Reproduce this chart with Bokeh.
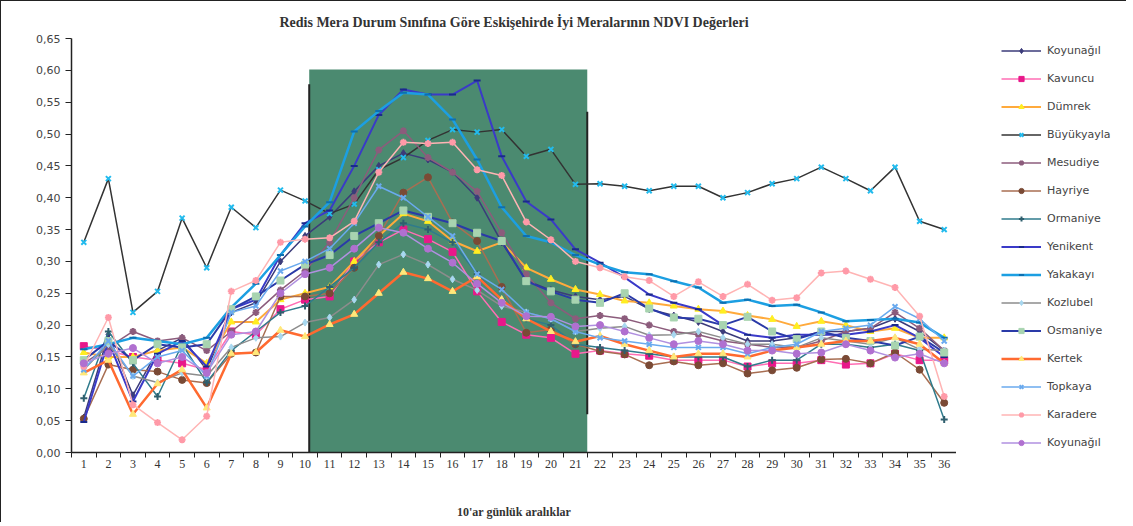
from bokeh.plotting import figure
from bokeh.layouts import row
from bokeh.models import (FixedTicker, CustomJSTickFormatter, Legend, LegendItem, Range1d)
from bokeh.embed import file_html
from bokeh.resources import INLINE

# ---------------- data ----------------
periods = list(range(1, 37))
x_labels = [str(i) for i in periods]
y_ticks = [0.00, 0.05, 0.10, 0.15, 0.20, 0.25, 0.30, 0.35, 0.40, 0.45, 0.50, 0.55, 0.60, 0.65]

names = ["Koyunağıl", "Kavuncu", "Dümrek", "Büyükyayla", "Mesudiye", "Hayriye", "Ormaniye",
         "Yenikent", "Yakakayı", "Kozlubel", "Osmaniye", "Kertek", "Topkaya", "Karadere", "Koyunağıl"]

koyunagil_1 = [0.055, 0.185, 0.09, 0.16, 0.18, 0.13, 0.22, 0.235, 0.30, 0.34,
               0.37, 0.41, 0.45, 0.47, 0.46, 0.44, 0.40, 0.33, 0.27, 0.255, 0.245,
               0.24, 0.245, 0.225, 0.215, 0.205, 0.19, 0.175, 0.175, 0.18, 0.19, 0.19, 0.195, 0.21, 0.19, 0.16]
kavuncu = [0.167, 0.16, 0.15, 0.145, 0.14, 0.13, 0.19, 0.185, 0.225, 0.24,
           0.245, 0.30, 0.33, 0.35, 0.335, 0.315, 0.253, 0.205, 0.185, 0.18, 0.155,
           0.16, 0.155, 0.152, 0.145, 0.145, 0.145, 0.135, 0.14, 0.14, 0.145, 0.138, 0.14, 0.155, 0.145, 0.145]
dumrek = [0.157, 0.15, 0.15, 0.16, 0.165, 0.14, 0.205, 0.205, 0.24, 0.25,
          0.26, 0.30, 0.34, 0.375, 0.363, 0.332, 0.316, 0.33, 0.29, 0.272, 0.256,
          0.248, 0.238, 0.235, 0.23, 0.225, 0.222, 0.215, 0.209, 0.198, 0.206, 0.20, 0.19, 0.195, 0.18, 0.18]
buyukyayla = [0.33, 0.43, 0.22, 0.253, 0.368, 0.29, 0.385, 0.353, 0.412, 0.395,
              0.375, 0.39, 0.444, 0.463, 0.49, 0.507, 0.503, 0.507, 0.465, 0.476, 0.421,
              0.422, 0.418, 0.411, 0.418, 0.418, 0.40, 0.408, 0.422, 0.43, 0.448, 0.43, 0.411, 0.448, 0.363, 0.35]
mesudiye = [0.14, 0.165, 0.19, 0.175, 0.18, 0.16, 0.19, 0.22, 0.255, 0.285,
            0.33, 0.40, 0.475, 0.505, 0.463, 0.44, 0.41, 0.345, 0.28, 0.235, 0.21,
            0.215, 0.21, 0.20, 0.19, 0.185, 0.175, 0.17, 0.165, 0.165, 0.175, 0.19, 0.195, 0.22, 0.195, 0.16]
hayriye = [0.053, 0.138, 0.13, 0.127, 0.114, 0.109, 0.155, 0.157, 0.245, 0.245,
           0.25, 0.29, 0.34, 0.408, 0.432, 0.361, 0.332, 0.26, 0.188, 0.193, 0.17,
           0.159, 0.154, 0.137, 0.143, 0.137, 0.14, 0.124, 0.129, 0.133, 0.146, 0.147, 0.14, 0.157, 0.13, 0.078]
ormaniye = [0.085, 0.19, 0.14, 0.088, 0.17, 0.11, 0.16, 0.19, 0.22, 0.23,
            0.26, 0.29, 0.33, 0.36, 0.35, 0.33, 0.28, 0.24, 0.21, 0.20, 0.17,
            0.165, 0.16, 0.155, 0.15, 0.15, 0.15, 0.135, 0.145, 0.145, 0.17, 0.17, 0.165, 0.17, 0.16, 0.052]
yenikent = [0.048, 0.175, 0.08, 0.155, 0.175, 0.135, 0.225, 0.24, 0.31, 0.36,
            0.38, 0.45, 0.53, 0.57, 0.562, 0.562, 0.584, 0.465, 0.394, 0.366, 0.319,
            0.298, 0.275, 0.248, 0.235, 0.225, 0.20, 0.185, 0.18, 0.185, 0.185, 0.185, 0.19, 0.20, 0.18, 0.15]
yakakayi = [0.162, 0.17, 0.18, 0.175, 0.17, 0.18, 0.228, 0.265, 0.31, 0.355,
            0.393, 0.504, 0.536, 0.565, 0.562, 0.523, 0.46, 0.385, 0.34, 0.33, 0.31,
            0.295, 0.283, 0.28, 0.269, 0.259, 0.235, 0.24, 0.23, 0.232, 0.22, 0.206, 0.208, 0.21, 0.204, 0.18]
kozlubel = [0.13, 0.17, 0.12, 0.11, 0.125, 0.12, 0.165, 0.18, 0.182, 0.204,
            0.212, 0.24, 0.295, 0.311, 0.295, 0.272, 0.255, 0.23, 0.22, 0.21, 0.19,
            0.195, 0.198, 0.184, 0.185, 0.19, 0.18, 0.17, 0.17, 0.165, 0.18, 0.175, 0.17, 0.18, 0.162, 0.16]
osmaniye = [0.145, 0.175, 0.145, 0.17, 0.165, 0.17, 0.225, 0.245, 0.27, 0.295,
            0.31, 0.34, 0.36, 0.38, 0.37, 0.36, 0.345, 0.332, 0.269, 0.253, 0.24,
            0.235, 0.25, 0.226, 0.212, 0.21, 0.20, 0.213, 0.19, 0.178, 0.19, 0.18, 0.175, 0.168, 0.182, 0.157]
kertek = [0.125, 0.145, 0.06, 0.108, 0.13, 0.07, 0.155, 0.157, 0.192, 0.182,
          0.201, 0.217, 0.25, 0.283, 0.273, 0.253, 0.276, 0.24, 0.21, 0.19, 0.174,
          0.183, 0.17, 0.16, 0.15, 0.155, 0.155, 0.15, 0.16, 0.165, 0.17, 0.175, 0.175, 0.18, 0.17, 0.14]
topkaya = [0.13, 0.175, 0.12, 0.15, 0.16, 0.12, 0.22, 0.23, 0.285, 0.30,
           0.32, 0.36, 0.418, 0.40, 0.37, 0.34, 0.28, 0.256, 0.22, 0.21, 0.19,
           0.18, 0.175, 0.17, 0.165, 0.165, 0.165, 0.155, 0.165, 0.17, 0.19, 0.195, 0.20, 0.229, 0.21, 0.175]
karadere = [0.135, 0.212, 0.075, 0.047, 0.02, 0.057, 0.253, 0.27, 0.33, 0.335,
            0.337, 0.363, 0.44, 0.487, 0.485, 0.487, 0.444, 0.435, 0.362, 0.334, 0.30,
            0.29, 0.276, 0.27, 0.245, 0.268, 0.245, 0.264, 0.239, 0.243, 0.282, 0.285, 0.272, 0.259, 0.214, 0.088]
koyunagil_2 = [0.14, 0.155, 0.164, 0.14, 0.15, 0.125, 0.185, 0.19, 0.25, 0.28,
               0.29, 0.32, 0.353, 0.345, 0.32, 0.298, 0.265, 0.235, 0.214, 0.213, 0.198,
               0.20, 0.19, 0.18, 0.17, 0.175, 0.17, 0.16, 0.16, 0.155, 0.157, 0.17, 0.16, 0.149, 0.155, 0.14]

series = [koyunagil_1, kavuncu, dumrek, buyukyayla, mesudiye, hayriye, ormaniye,
          yenikent, yakakayi, kozlubel, osmaniye, kertek, topkaya, karadere, koyunagil_2]

# shaded growing period (in category units)
shade_left, shade_right, shade_top = 10.17, 21.48, 0.6015

# ---------------- styles ----------------
line_colors = ["#3b3b7a", "#ff6eb4", "#ffaa3c", "#333333", "#8c5c7c", "#a86e52", "#2f7b8c",
               "#3a3ac8", "#1c9fe2", "#8c8c8c", "#2a3aa8", "#ff6a30", "#6aaaee", "#ffb4b4", "#b090e0"]
marker_colors = ["#3b3b7a", "#e8188a", "#ffee22", "#22bbee", "#8c5c7c", "#7a4a35", "#2f5f6e",
                 "#1a2a8a", "#0d6fb0", "#a8d8f0", "#a8d4b0", "#ffe87a", "#6aaaee", "#ff9aa8", "#b070d0"]
markers = ["diamond", "square", "triangle", "x", "asterisk", "circle", "cross",
           "dash", "dash", "diamond", "square", "triangle", "x", "asterisk", "circle"]
line_widths = [1.5, 1.5, 2, 1.5, 1.5, 1.5, 1.5, 2, 2.5, 1.5, 2, 2.5, 1.5, 1.5, 1.5]

TOTAL_H = 521

p = figure(frame_width=885, frame_height=414, output_backend="svg", toolbar_location=None,
           x_range=Range1d(0.5, 36.5), y_range=Range1d(0, 0.65),
           min_border_left=70, min_border_right=0, min_border_top=37, min_border_bottom=70)

p.title.text = "Redis Mera Durum Sınıfına Göre Eskişehirde İyi Meralarının NDVI Değerleri"
p.title.align = "center"
p.title.text_font = "Liberation Serif"
p.title.text_font_size = "14px"
p.title.text_font_style = "bold"
p.title.text_color = "#333333"
p.title.standoff = 18

p.outline_line_color = None
p.xgrid.grid_line_color = None
p.ygrid.grid_line_color = None
p.background_fill_color = "white"

# shaded block
p.quad(left=[shade_left], right=[shade_right], bottom=[0], top=[shade_top],
       fill_color="#4b8a70", line_color=None)
p.segment(x0=[shade_left], y0=[0], x1=[shade_left], y1=[0.578], line_color="#222222", line_width=2)
p.segment(x0=[shade_right], y0=[0.06], x1=[shade_right], y1=[0.535], line_color="#222222", line_width=2)

# legend panel: separate figure; its proxy renderers use the same data but lie outside its view
lg = figure(width=170, height=TOTAL_H, output_backend="svg", toolbar_location=None,
            x_range=Range1d(100, 101), y_range=Range1d(100, 101), min_border=0)
lg.axis.visible = False
lg.grid.visible = False
lg.outline_line_color = None

items = []
for name, vals, lc, mc, mk, lw in zip(names, series, line_colors, marker_colors, markers, line_widths):
    p.line(periods, vals, line_color=lc, line_width=lw)
    kw = dict(marker=mk, size=7, line_color=mc, fill_color=mc)
    if mk in ("x", "asterisk", "cross", "dash"):
        kw["line_width"] = 2
    p.scatter(periods, vals, **kw)
    lr = lg.line(periods, vals, line_color=lc, line_width=lw)
    sr = lg.scatter(periods, vals, **kw)
    items.append(LegendItem(label=name, renderers=[lr, sr]))

legend = Legend(items=items, location=(45, 3), orientation="vertical",
                glyph_width=40, glyph_height=13, spacing=15, padding=0, margin=0,
                label_standoff=6, label_text_font="DejaVu Sans", label_text_font_size="11px",
                label_text_color="#444444", border_line_color=None, background_fill_alpha=0)
lg.add_layout(legend, "center")

# axes
p.xaxis.ticker = FixedTicker(ticks=periods, minor_ticks=[i + 0.5 for i in range(0, 37)])
p.xaxis.major_label_overrides = {i: s for i, s in zip(periods, x_labels)}
p.xaxis.major_tick_line_color = None
p.xaxis.minor_tick_in = 0
p.xaxis.minor_tick_out = 5
p.xaxis.minor_tick_line_color = "#222222"
p.xaxis.axis_line_color = "#222222"
p.xaxis.axis_line_width = 1.5
p.xaxis.major_label_text_font = "Liberation Serif"
p.xaxis.major_label_text_font_size = "12px"
p.xaxis.major_label_text_color = "#333333"
p.xaxis.major_label_standoff = 1
p.xaxis.axis_label = "10'ar günlük aralıklar"
p.xaxis.axis_label_text_font = "Liberation Serif"
p.xaxis.axis_label_text_font_size = "12px"
p.xaxis.axis_label_text_font_style = "bold"
p.xaxis.axis_label_text_color = "#333333"
p.xaxis.axis_label_standoff = 34

p.yaxis.ticker = FixedTicker(ticks=y_ticks)
p.yaxis.formatter = CustomJSTickFormatter(code="return tick.toFixed(2).replace('.', ',');")
p.yaxis.major_tick_in = 0
p.yaxis.major_tick_out = 6
p.yaxis.minor_tick_line_color = None
p.yaxis.major_tick_line_color = "#222222"
p.yaxis.axis_line_color = "#222222"
p.yaxis.axis_line_width = 1.5
p.yaxis.major_label_text_font = "DejaVu Sans"
p.yaxis.major_label_text_font_size = "11px"
p.yaxis.major_label_text_color = "#444444"

layout = row(p, lg, styles={"border-top": "1px solid #222", "border-left": "1px solid #222"})
open("out.html", "w").write(file_html(layout, INLINE))
